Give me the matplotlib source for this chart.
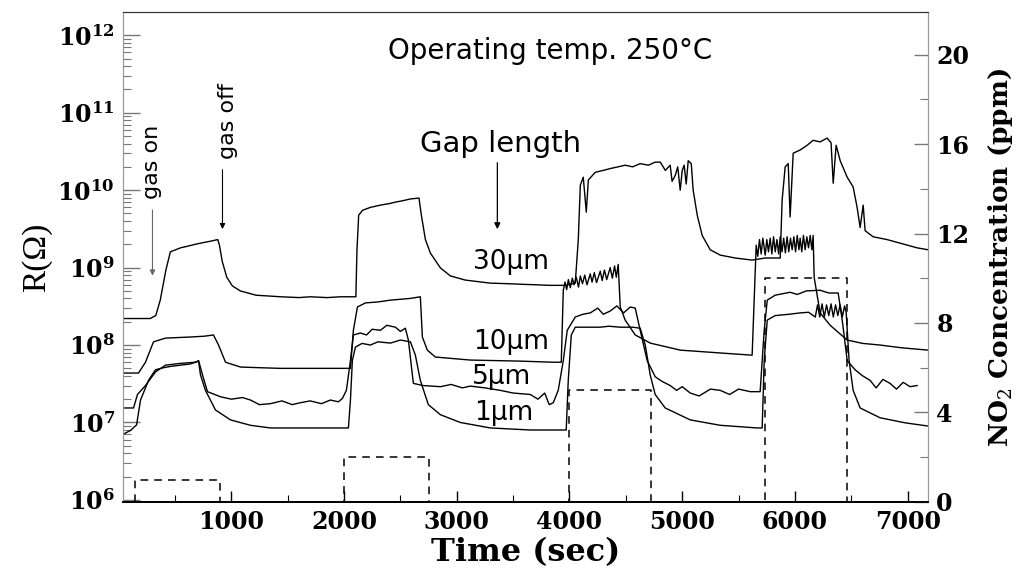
import math
import matplotlib
matplotlib.use("Agg")
import matplotlib.pyplot as plt
from matplotlib.ticker import FixedLocator, LogLocator, NullFormatter, FuncFormatter, MultipleLocator

# ---------------- data ----------------
t_30 = [30, 280, 330, 370, 420, 460, 550, 620, 680, 750, 820, 880, 895, 920, 960, 1010, 1080, 1220, 1440, 1600,
        1700, 1850, 1970, 2105, 2115, 2130, 2165, 2235, 2280, 2320, 2400, 2455, 2520, 2590, 2665, 2686, 2722, 2766,
        2855, 2944, 3076, 3298, 3450, 3564, 3700, 3830, 3963, 4051, 4078, 4096, 4122, 4149, 4167, 4228, 4300, 4361,
        4430, 4494, 4560, 4627, 4700, 4760, 4805, 4850, 4893, 4910, 4938, 4960, 4982, 5000, 5017, 5035, 5053, 5080,
        5097, 5133, 5177, 5248, 5337, 5470, 5620, 5736, 5869, 5886, 5913, 5940, 5957, 5984, 6046, 6108, 6161, 6223,
        6285, 6320, 6339, 6365, 6401, 6463, 6516, 6551, 6578, 6605, 6622, 6693, 6817, 6932, 7083, 7180]
R_30 = [2.2e8, 2.2e8, 2.4e8, 3.8e8, 9.3e8, 1.6e9, 1.8e9, 1.9e9, 2.0e9, 2.1e9, 2.2e9, 2.3e9, 1.95e9, 1.2e9, 7.5e8,
        5.8e8, 5.0e8, 4.4e8, 4.2e8, 4.1e8, 4.2e8, 4.1e8, 4.2e8, 4.2e8, 1.7e9, 4.75e9, 5.5e9, 6.0e9, 6.2e9, 6.4e9,
        6.7e9, 7.0e9, 7.3e9, 7.7e9, 7.9e9, 4.75e9, 2.3e9, 1.54e9, 9.9e8, 7.8e8, 6.9e8, 6.3e8, 6.2e8, 6.1e8, 6.0e8,
        5.9e8, 5.9e8, 6.3e8, 2.3e9, 1.16e10, 1.47e10, 5.2e9, 1.35e10, 1.7e10, 1.8e10, 1.9e10, 2.0e10, 2.1e10, 2.0e10,
        2.2e10, 2.1e10, 2.3e10, 2.3e10, 1.8e10, 2.1e10, 1.3e10, 1.55e10, 2.0e10, 1.0e10, 1.8e10, 2.1e10, 1.2e10,
        2.4e10, 2.2e10, 1.0e10, 4.75e9, 2.6e9, 1.7e9, 1.45e9, 1.33e9, 1.25e9, 1.33e9, 1.33e9, 7.4e9, 2.0e10, 2.2e10,
        4.5e9, 3.0e10, 3.3e10, 3.8e10, 4.4e10, 4.2e10, 4.7e10, 4.1e10, 1.23e10, 3.8e10, 2.4e10, 1.47e10, 1.1e10,
        6.0e9, 3.3e9, 6.4e9, 3.0e9, 2.5e9, 2.3e9, 2.07e9, 1.8e9, 1.7e9]

t_10 = [30, 177, 239, 310, 417, 530, 638, 760, 842, 887, 949, 1082, 1250, 1436, 1700, 1968, 2057, 2083, 2119, 2190,
        2300, 2411, 2500, 2589, 2677, 2695, 2739, 2810, 3120, 3564, 3856, 3927, 3945, 3960, 3975, 3990, 4007, 4025,
        4040, 4060, 4080, 4096, 4115, 4135, 4155, 4184, 4200, 4220, 4240, 4273, 4290, 4310, 4330, 4361, 4380, 4400,
        4415, 4432, 4450, 4494, 4583, 4716, 4982, 5337, 5620, 5638, 5656, 5670, 5685, 5700, 5715, 5736, 5750, 5765,
        5780, 5795, 5810, 5825, 5840, 5855, 5869, 5885, 5900, 5915, 5930, 5945, 5960, 5975, 5990, 6005, 6020, 6035,
        6046, 6060, 6075, 6090, 6105, 6120, 6135, 6150, 6161, 6170, 6223, 6312, 6463, 6600, 6755, 6950, 7180]
R_10 = [4.35e7, 4.35e7, 6.0e7, 1.1e8, 1.23e8, 1.25e8, 1.27e8, 1.3e8, 1.35e8, 1.0e8, 6.0e7, 5.2e7, 5.1e7, 5.0e7,
        5.0e7, 5.0e7, 5.0e7, 1.55e8, 3.1e8, 3.5e8, 3.6e8, 3.8e8, 3.9e8, 4.0e8, 4.2e8, 1.27e8, 8.6e7, 7.0e7, 6.4e7,
        6.2e7, 6.0e7, 6.0e7, 5.1e8, 6.5e8, 5.2e8, 7.0e8, 5.5e8, 7.3e8, 6.0e8, 7.5e8, 5.6e8, 7.8e8, 6.2e8, 8.0e8,
        6.0e8, 8.3e8, 6.5e8, 8.6e8, 6.4e8, 9.0e8, 6.8e8, 9.3e8, 7.0e8, 1.0e9, 7.3e8, 1.05e9, 7.5e8, 1.1e9, 3.1e8,
        2.1e8, 1.35e8, 1.06e8, 8.6e7, 7.9e7, 7.4e7, 3.8e8, 1.95e9, 1.4e9, 2.3e9, 1.5e9, 2.4e9, 1.45e9, 2.3e9, 1.6e9,
        2.4e9, 1.5e9, 2.5e9, 1.6e9, 2.3e9, 1.5e9, 2.5e9, 1.6e9, 2.4e9, 1.55e9, 2.5e9, 1.6e9, 2.4e9, 1.7e9, 2.5e9,
        1.6e9, 2.6e9, 1.7e9, 2.4e9, 1.6e9, 2.6e9, 1.7e9, 2.5e9, 1.8e9, 2.6e9, 1.7e9, 2.6e9, 7.5e8, 2.6e8, 1.8e8,
        1.16e8, 1.05e8, 1.0e8, 9.2e7, 8.6e7]

t_5 = [30, 133, 168, 239, 328, 417, 550, 683, 710, 745, 789, 904, 1000, 1100, 1170, 1250, 1347, 1450, 1540, 1613,
       1700, 1800, 1879, 1950, 1986, 2021, 2057, 2083, 2145, 2200, 2250, 2323, 2380, 2456, 2500, 2544, 2571, 2615,
       2700, 2855, 2950, 3050, 3120, 3250, 3386, 3500, 3652, 3720, 3780, 3820, 3856, 3880, 3900, 3945, 3980, 4051,
       4120, 4184, 4250, 4300, 4361, 4420, 4480, 4539, 4583, 4627, 4689, 4760, 4820, 4893, 4950, 5000, 5071, 5150,
       5250, 5337, 5420, 5500, 5603, 5691, 5727, 5754, 5824, 5890, 5957, 6020, 6100, 6223, 6300, 6383, 6419, 6463,
       6533, 6600, 6666, 6720, 6780, 6843, 6900, 6960, 7020, 7083]
R_5 = [1.54e7, 1.54e7, 2.3e7, 3.0e7, 4.5e7, 5.5e7, 5.8e7, 6.0e7, 6.3e7, 4.1e7, 2.5e7, 2.15e7, 2.0e7, 2.1e7, 1.95e7,
       1.7e7, 1.75e7, 1.9e7, 1.7e7, 1.8e7, 1.9e7, 1.75e7, 1.95e7, 1.85e7, 2.05e7, 2.6e7, 6.3e7, 1.35e8, 1.43e8,
       1.35e8, 1.6e8, 1.55e8, 1.8e8, 1.7e8, 1.5e8, 1.65e8, 1.16e8, 3.2e7, 3.0e7, 2.9e7, 3.1e7, 2.8e7, 2.95e7,
       2.8e7, 2.6e7, 2.4e7, 2.3e7, 2.0e7, 2.4e7, 1.7e7, 1.8e7, 2.2e7, 2.6e7, 6.3e7, 1.55e8, 2.3e8, 2.5e8, 2.6e8,
       3.0e8, 2.5e8, 2.75e8, 3.2e8, 2.6e8, 3.1e8, 3.0e8, 1.55e8, 6.3e7, 3.9e7, 3.4e7, 3.0e7, 2.6e7, 2.9e7, 2.4e7,
       2.2e7, 2.7e7, 2.6e7, 2.3e7, 2.7e7, 2.5e7, 2.5e7, 1.55e8, 3.8e8, 4.4e8, 4.6e8, 4.8e8, 4.5e8, 5.0e8, 5.1e8,
       4.7e8, 4.7e8, 2.1e8, 6.3e7, 4.8e7, 4.0e7, 3.5e7, 2.8e7, 3.6e7, 3.2e7, 2.7e7, 3.3e7, 2.9e7, 3.0e7]

t_1 = [30, 106, 160, 195, 266, 328, 400, 461, 550, 638, 710, 727, 771, 860, 993, 1170, 1347, 1613, 1800, 2039,
       2057, 2074, 2101, 2160, 2234, 2300, 2411, 2500, 2589, 2633, 2677, 2748, 2855, 3032, 3298, 3652, 3971, 3989,
       4016, 4051, 4150, 4273, 4350, 4450, 4560, 4627, 4672, 4716, 4760, 4849, 5071, 5337, 5665, 5709, 5727, 5754,
       5824, 5950, 6046, 6120, 6180, 6200, 6220, 6240, 6260, 6280, 6300, 6320, 6340, 6360, 6380, 6400, 6420, 6440,
       6454, 6480, 6516, 6578, 6755, 6977, 7180]
R_1 = [6.9e6, 7.9e6, 9.3e6, 1.95e7, 3.5e7, 4.8e7, 5.1e7, 5.3e7, 5.5e7, 5.7e7, 6.2e7, 4.1e7, 2.6e7, 1.45e7, 1.08e7,
       9.2e6, 8.5e6, 8.5e6, 8.5e6, 8.5e6, 1.95e7, 6.3e7, 9.4e7, 1.05e8, 1.0e8, 1.1e8, 1.06e8, 1.16e8, 1.1e8, 7.4e7,
       3.5e7, 1.7e7, 1.26e7, 1.0e7, 8.5e6, 8.0e6, 8.0e6, 3.5e7, 1.35e8, 1.7e8, 1.7e8, 1.7e8, 1.75e8, 1.7e8, 1.7e8,
       1.65e8, 1.0e8, 4.1e7, 2.3e7, 1.54e7, 1.08e7, 9.2e6, 8.5e6, 8.5e6, 6.3e7, 2.1e8, 2.4e8, 2.5e8, 2.6e8, 2.65e8,
       2.3e8, 3.3e8, 2.3e8, 3.4e8, 2.3e8, 3.3e8, 2.4e8, 3.4e8, 2.3e8, 3.3e8, 2.4e8, 3.3e8, 2.3e8, 3.2e8, 2.65e8,
       6.3e7, 2.6e7, 1.54e7, 1.15e7, 9.9e6, 9.0e6]

t_conc = [150, 150, 900, 900, 2000, 2000, 2750, 2750, 4000, 4000, 4725, 4725, 5730, 5730, 6465, 6465]
c_conc = [0, 1, 1, 0, 0, 2, 2, 0, 0, 5, 5, 0, 0, 10, 10, 0]

x_ticks = [1000, 2000, 3000, 4000, 5000, 6000, 7000]
y_ticks = [1e6, 1e7, 1e8, 1e9, 1e10, 1e11, 1e12]
r_ticks = [0, 4, 8, 12, 16, 20]
gap_labels = ["30μm", "10μm", "5μm", "1μm"]

# ---------------- figure ----------------
plt.rcParams['mathtext.fontset'] = 'dejavuserif'
fig = plt.figure(figsize=(10.34, 5.73), dpi=100)
ax = fig.add_axes([0.119, 0.124, 0.7785, 0.855])
ax2 = ax.twinx()

serif_b = dict(family="DejaVu Serif", weight="bold")

lw = 1.0
for tt, rr in [(t_30, R_30), (t_10, R_10), (t_5, R_5), (t_1, R_1)]:
    ax.plot(tt, rr, color="black", lw=lw)

ax.set_yscale("log")
ax.set_xlim(40, 7180)
ax.set_ylim(10**5.974, 10**12.30)

ax2.plot(t_conc, c_conc, color="black", lw=1.1, linestyle=(0, (5, 4)), zorder=1)
ax2.set_ylim(0, 21.9)

# ticks
ax.xaxis.set_major_locator(FixedLocator(x_ticks))
ax.xaxis.set_minor_locator(MultipleLocator(500))
ax.yaxis.set_major_locator(FixedLocator(y_ticks))
ax.yaxis.set_minor_locator(LogLocator(base=10, subs=range(2, 10), numticks=100))
ax.yaxis.set_minor_formatter(NullFormatter())
ax.yaxis.set_major_formatter(FuncFormatter(lambda v, p: r"$\mathbf{10^{%d}}$" % round(math.log10(v))))
ax.tick_params(axis="both", which="both", direction="in", top=False, right=False)
ax.tick_params(axis="y", which="major", length=12, width=1, pad=6, labelsize=17, color="#777777")
ax.tick_params(axis="y", which="minor", length=6, width=0.8, color="#777777")
ax.tick_params(axis="x", which="major", length=8, width=1, pad=6, labelsize=17)
ax.tick_params(axis="x", which="minor", length=5, width=0.8)
for lab in ax.get_xticklabels():
    lab.set_fontfamily("DejaVu Serif")
    lab.set_fontweight("bold")

ax2.yaxis.set_major_locator(FixedLocator(r_ticks))
ax2.yaxis.set_minor_locator(MultipleLocator(2))
ax2.tick_params(axis="y", which="both", direction="in")
ax2.tick_params(axis="y", which="major", length=10, width=1, pad=6, labelsize=17, color="#777777")
ax2.tick_params(axis="y", which="minor", length=6, width=0.8, color="#777777")
for lab in ax2.get_yticklabels():
    lab.set_fontfamily("DejaVu Serif")
    lab.set_fontweight("bold")

for a in (ax, ax2):
    a.spines["left"].set_color("#999999")
    a.spines["right"].set_color("#999999")
    a.spines["top"].set_color("#333333")
    a.spines["bottom"].set_color("black")
    a.spines["bottom"].set_linewidth(1.3)
    a.spines["bottom"].set_zorder(5)

# labels
ax.set_xlabel("Time (sec)", fontsize=23, labelpad=2, **serif_b)
ax.set_ylabel("R(Ω)", fontsize=24, family="Liberation Serif", labelpad=4)
ax2.set_ylabel("NO$_2$ Concentration (ppm)", fontsize=19, labelpad=12, **serif_b)

# annotations
sans = "DejaVu Sans"
ax.text(3830, 10**11.8, "Operating temp. 250°C", fontsize=20, family=sans, ha="center", va="center")
ax.text(3386, 10**10.6, "Gap length", fontsize=21, family=sans, ha="center", va="center")
ax.annotate("", xy=(3360, 10**9.46), xytext=(3360, 10**10.39),
            arrowprops=dict(arrowstyle="-|>", lw=0.9, color="black", mutation_scale=9))
ax.text(301, 10**10.36, "gas on", fontsize=16, family=sans, rotation=90, ha="center", va="center")
ax.annotate("", xy=(301, 10**8.86), xytext=(301, 10**9.78),
            arrowprops=dict(arrowstyle="-|>", lw=0.8, color="#666666", mutation_scale=8))
ax.text(975, 10**10.89, "gas off", fontsize=16, family=sans, rotation=90, ha="center", va="center")
ax.annotate("", xy=(922, 10**9.46), xytext=(922, 10**10.3),
            arrowprops=dict(arrowstyle="-|>", lw=0.8, color="black", mutation_scale=8))

label_pos = [(3480, 9.07), (3480, 8.04), (3400, 7.59), (3420, 7.12)]
for txt, (tx, ly) in zip(gap_labels, label_pos):
    ax.text(tx, 10**ly, txt, fontsize=19, family=sans, ha="center", va="center")

fig.savefig("out.png", dpi=100)
